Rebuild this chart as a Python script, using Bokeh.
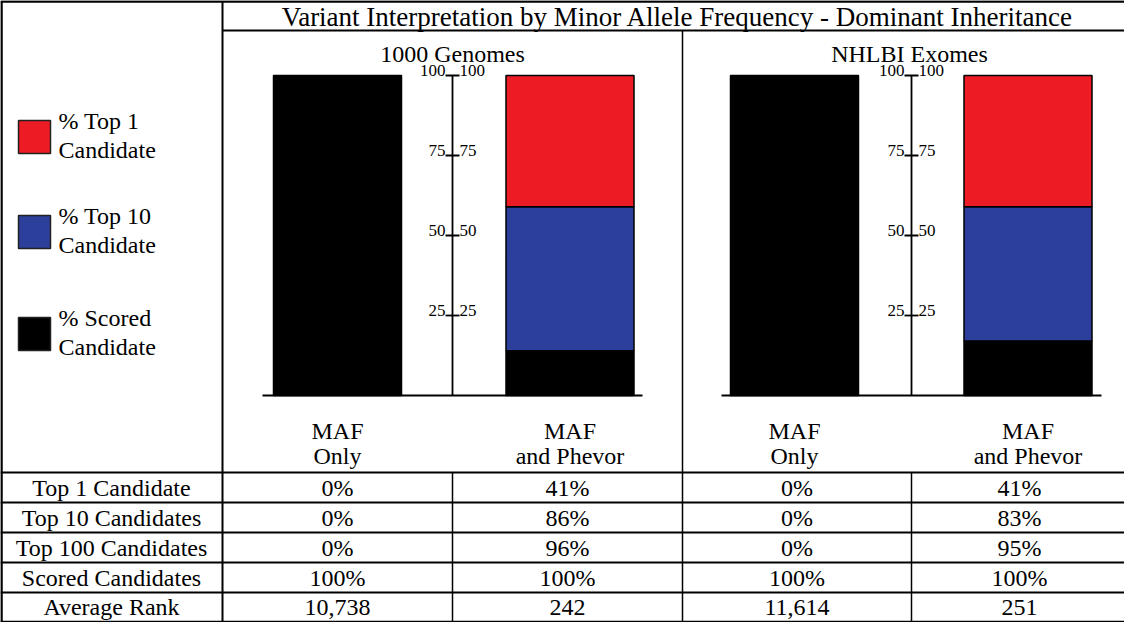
from bokeh.plotting import figure
from bokeh.models import Range1d, ColumnDataSource
from bokeh.core.properties import value
from bokeh.embed import file_html
from bokeh.resources import INLINE

# ---------------- data ----------------
title = "Variant Interpretation by Minor Allele Frequency - Dominant Inheritance"
panels = ["1000 Genomes", "NHLBI Exomes"]
method_line1 = ["MAF", "MAF"]
method_line2 = ["Only", "and Phevor"]

g1000_top1 = [0, 41]
g1000_top10 = [0, 86]
g1000_top100 = [0, 96]
g1000_scored = [100, 100]
g1000_rank = [10738, 242]

nhlbi_top1 = [0, 41]
nhlbi_top10 = [0, 83]
nhlbi_top100 = [0, 95]
nhlbi_scored = [100, 100]
nhlbi_rank = [11614, 251]

row_labels = ["Top 1 Candidate", "Top 10 Candidates", "Top 100 Candidates",
              "Scored Candidates", "Average Rank"]
legend_line1 = ["% Top 1", "% Top 10", "% Scored"]
legend_line2 = ["Candidate", "Candidate", "Candidate"]
axis_ticks = [25, 50, 75, 100]

# ---------------- styling / layout ----------------
FONT = "Liberation Serif"
RED = "#ED1C24"
BLUE = "#2B3F9B"
BLACK = "#000000"
W, H = 1124, 622
PX_PER_UNIT = 3.2
BASE_PX = 403.0


def Y(py):
    """page-pixel row -> data units (percent scale)"""
    return (BASE_PX - py) / PX_PER_UNIT


p = figure(width=W, height=H, output_backend="svg", toolbar_location=None,
           x_range=Range1d(8, 8 + W), y_range=Range1d(Y(8 + H), Y(8)),
           min_border=0, min_border_left=0, min_border_right=0,
           min_border_top=0, min_border_bottom=0)
p.axis.visible = False
p.grid.visible = False
p.outline_line_color = None
p.background_fill_color = "white"
p.border_fill_color = "white"

RIGHT = 8 + W


def hline(x0, x1, py, lw=2, color="black"):
    p.segment(x0=[x0], y0=[Y(py)], x1=[x1], y1=[Y(py)], line_width=lw, line_color=color)


def vline(x, py0, py1, lw=2, color="black"):
    p.segment(x0=[x], y0=[Y(py0)], x1=[x], y1=[Y(py1)], line_width=lw, line_color=color)


def txt(x, py, s, size, align="center"):
    p.text(x=[x], y=[Y(py)], text=[s], text_font=value(FONT),
           text_font_size=value(f"{size}px"), text_align=align,
           text_baseline="middle", text_color="black")


# ---------------- frame ----------------
TOP, BOTTOM = 9, 629.5
hline(8, RIGHT, TOP, lw=2.5)
vline(9, TOP, BOTTOM, lw=2.5)
hline(8, RIGHT, BOTTOM, lw=2.5)
vline(230, TOP, BOTTOM, lw=2)
hline(230, RIGHT, 38, lw=2)
vline(690, 38, BOTTOM, lw=1.5)
HEADER = 480
hline(8, RIGHT, HEADER, lw=2)
row_edges = [480, 510, 540, 570, 600, 629.5]
for ry in row_edges[1:-1]:
    hline(8, RIGHT, ry, lw=2)
vline(460, HEADER, BOTTOM, lw=1.5)
vline(919, HEADER, BOTTOM, lw=1.5)

# ---------------- titles ----------------
txt(685, 24.5, title, 27)
panel_centers = [460, 917]
for cx, name in zip(panel_centers, panels):
    txt(cx, 61, name, 24)

# ---------------- legend ----------------
legend_colors = [RED, BLUE, BLACK]
legend_tops = [128, 223, 325]
for col, top, l1, l2 in zip(legend_colors, legend_tops, legend_line1, legend_line2):
    p.rect(x=[42], y=[Y(top + 16.5)], width=32, height=33 / PX_PER_UNIT,
           fill_color=col, line_color="#222222", line_width=1.5)
    txt(66, top, l1, 24, align="left")
    txt(66, top + 29, l2, 24, align="left")

# ---------------- bars ----------------
bar_centers = [[345, 577.5], [802, 1035.5]]
axis_x = [460, 919]
base_spans = [(270, 650), (729, 1109)]
BAR_W = 128
LABEL_LIFT = 5.5 / PX_PER_UNIT   # tick labels sit just above their tick

panel_data = [
    (g1000_top1, g1000_top10, g1000_scored),
    (nhlbi_top1, nhlbi_top10, nhlbi_scored),
]

for centers, (t1, t10, sc), ax, (b0, b1) in zip(bar_centers, panel_data, axis_x, base_spans):
    black_top = [s - t for s, t in zip(sc, t10)]
    blue_top = [s - t for s, t in zip(sc, t1)]
    segs = [
        ([0, 0], black_top, BLACK),
        (black_top, blue_top, BLUE),
        (blue_top, sc, RED),
    ]
    for bottoms, tops, col in segs:
        xs = [c for c, b, t in zip(centers, bottoms, tops) if t > b]
        bb = [b for b, t in zip(bottoms, tops) if t > b]
        tt = [t for b, t in zip(bottoms, tops) if t > b]
        if xs:
            src = ColumnDataSource(dict(x=xs, bottom=bb, top=tt))
            p.vbar(x="x", bottom="bottom", top="top", width=BAR_W, source=src,
                   fill_color=col, line_color="black", line_width=1.5)
    # baseline
    p.segment(x0=[b0], y0=[0], x1=[b1], y1=[0], line_width=2.2, line_color="black")
    # central axis
    p.segment(x0=[ax], y0=[0], x1=[ax], y1=[max(axis_ticks)], line_width=1.8, line_color="black")
    p.segment(x0=[ax - 7] * len(axis_ticks), y0=axis_ticks,
              x1=[ax + 7] * len(axis_ticks), y1=axis_ticks,
              line_width=1.8, line_color="black")
    lab_y = [t + LABEL_LIFT for t in axis_ticks]
    p.text(x=[ax - 7] * len(axis_ticks), y=lab_y, text=[str(t) for t in axis_ticks],
           text_font=value(FONT), text_font_size=value("17px"), text_align="right",
           text_baseline="middle", text_color="black")
    p.text(x=[ax + 7] * len(axis_ticks), y=lab_y, text=[str(t) for t in axis_ticks],
           text_font=value(FONT), text_font_size=value("17px"), text_align="left",
           text_baseline="middle", text_color="black")
    # method labels
    for c, l1, l2 in zip(centers, method_line1, method_line2):
        txt(c, 438, l1, 24)
        txt(c, 463, l2, 24)

# ---------------- table ----------------
col_centers = [345, 575, 804.5, 1027]
cols = []
for (t1, t10, sc), rank, t100 in zip(panel_data, [g1000_rank, nhlbi_rank],
                                     [g1000_top100, nhlbi_top100]):
    for i in range(2):
        cols.append([f"{t1[i]}%", f"{t10[i]}%", f"{t100[i]}%", f"{sc[i]}%", f"{rank[i]:,}"])

for r, lab in enumerate(row_labels):
    cy = (row_edges[r] + row_edges[r + 1]) / 2
    txt(119, cy, lab, 24)
    for cx, colvals in zip(col_centers, cols):
        txt(cx, cy, colvals[r], 24)

open("out.html", "w").write(file_html(p, INLINE))
